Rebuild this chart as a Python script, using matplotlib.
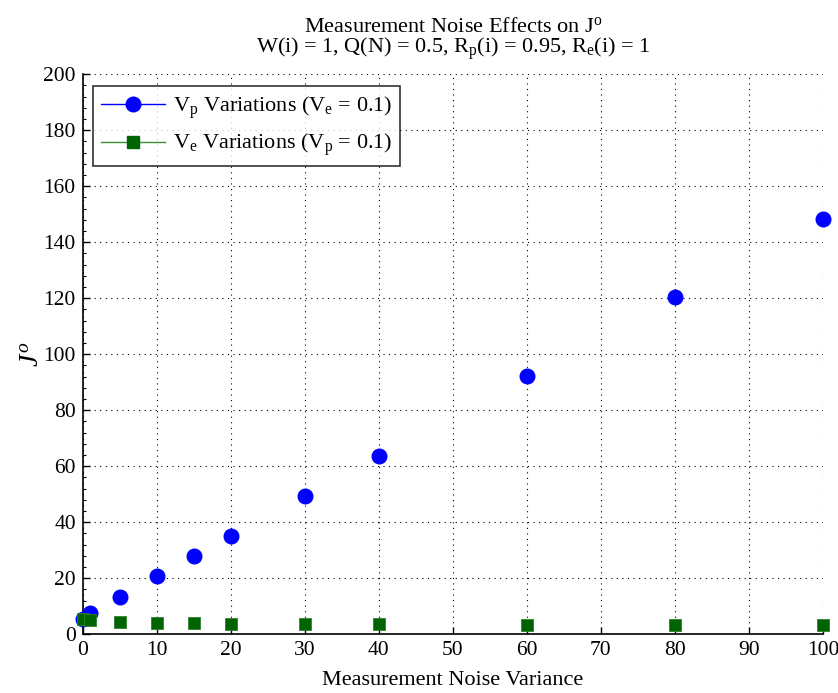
import matplotlib
matplotlib.use("Agg")
import matplotlib.pyplot as plt
from matplotlib.lines import Line2D
from matplotlib.ticker import MultipleLocator

plt.rcParams["font.family"] = ["Liberation Serif", "DejaVu Serif"]
plt.rcParams["mathtext.fontset"] = "custom"
plt.rcParams["mathtext.rm"] = "Liberation Serif"
plt.rcParams["mathtext.it"] = "Liberation Serif:italic"

# noise variance values swept
variance = [0.1, 1, 5, 10, 15, 20, 30, 40, 60, 80, 100]
# cost J^o when V_p varies (V_e = 0.1)
j_vp = [5.6, 7.6, 13.4, 20.8, 28.0, 35.2, 49.5, 63.8, 92.1, 120.4, 148.4]
# cost J^o when V_e varies (V_p = 0.1)
j_ve = [5.3, 5.2, 4.4, 4.1, 4.0, 3.8, 3.7, 3.7, 3.5, 3.4, 3.2]

fig = plt.figure(figsize=(8.38, 6.93), dpi=100)
ax = fig.add_axes([0.0987, 0.0847, 0.8833, 0.8083])

ax.plot(variance, j_vp, linestyle="none", marker="o", markersize=10.5,
        color="blue", markerfacecolor="blue", markeredgecolor="blue",
        clip_on=False, zorder=3)
ax.plot(variance, j_ve, linestyle="none", marker="s", markersize=8.5,
        color="#006400", markerfacecolor="#006400", markeredgecolor="#2f7f2f",
        markeredgewidth=0.6, clip_on=False, zorder=4)

ax.set_xlim(0, 100)
ax.set_ylim(0, 200)
ax.xaxis.set_major_locator(MultipleLocator(10))
ax.yaxis.set_major_locator(MultipleLocator(20))
ax.yaxis.set_minor_locator(MultipleLocator(4))
ax.tick_params(direction="in", labelsize=15.5, length=5, width=1, pad=5)
ax.tick_params(axis="y", which="minor", direction="in", length=2.5, width=0.8)
ax.grid(True, which="major", linestyle=(0, (1, 4)), color="black", linewidth=0.8)

for side in ("top", "right"):
    ax.spines[side].set_visible(False)
for side in ("left", "bottom"):
    ax.spines[side].set_linewidth(1.2)

ax.set_xlabel("Measurement Noise Variance", fontsize=16, labelpad=8)
ax.set_ylabel(r"$J^o$", fontsize=20, labelpad=-1)
ax.set_title("Measurement Noise Effects on J$^{\\rm o}$\n"
             "W(i) = 1, Q(N) = 0.5, R$_{\\rm p}$(i) = 0.95, R$_{\\rm e}$(i) = 1",
             fontsize=16, linespacing=0.95, pad=15)

handles = [
    Line2D([], [], color="blue", linewidth=1, marker="o", markersize=10.5,
           markerfacecolor="blue"),
    Line2D([], [], color="#3a8f3a", linewidth=1, marker="s", markersize=8.5,
           markerfacecolor="#006400", markeredgecolor="#006400"),
]
labels = [
    r"V$_{\rm p}$ Variations (V$_{\rm e}$ = 0.1)",
    r"V$_{\rm e}$ Variations (V$_{\rm p}$ = 0.1)",
]
leg = ax.legend(handles, labels, loc="upper left", bbox_to_anchor=(0.014, 0.978),
                fontsize=16, frameon=True, fancybox=False, edgecolor="black",
                handlelength=2.9, borderpad=0.35, labelspacing=0.5,
                handletextpad=0.35, borderaxespad=0)
leg.get_frame().set_linewidth(1.2)

fig.savefig("out.png", dpi=100)
